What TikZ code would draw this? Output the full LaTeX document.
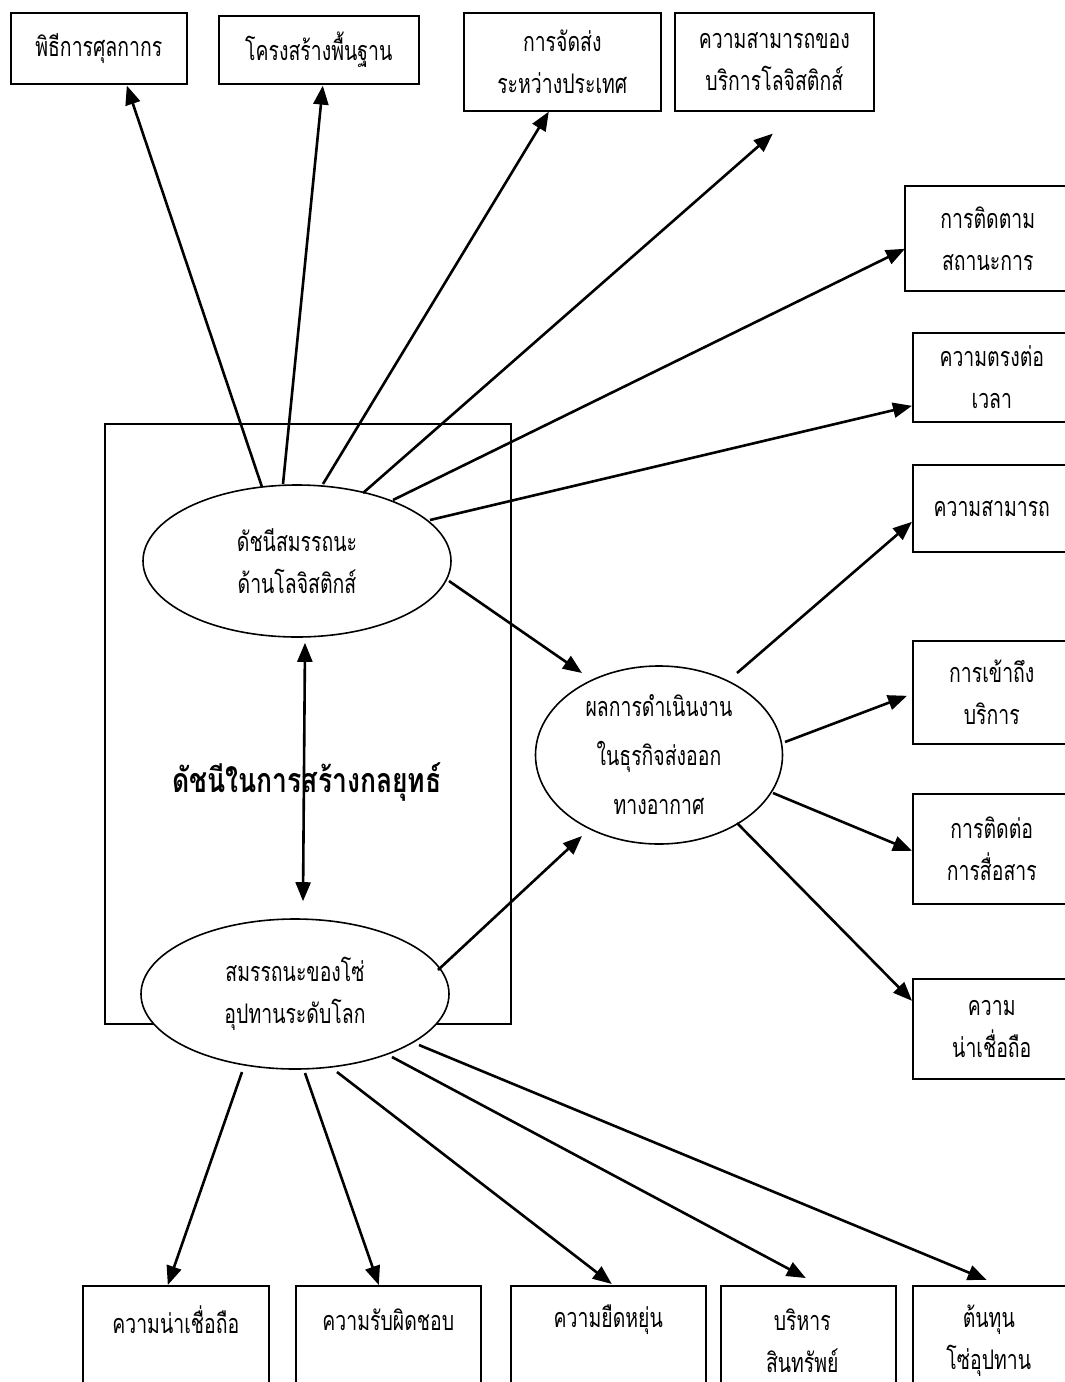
\documentclass[tikz,border=0pt]{standalone}
\usepackage{fontspec}
\setmainfont[Script=Thai]{Loma}
\newfontfamily\thaistr[Script=Thai,FakeStretch=0.72]{Loma}
\newfontfamily\thaititle[Script=Thai,FakeStretch=0.78]{Loma}
\usetikzlibrary{arrows.meta,calc,shapes.geometric}
\newcommand\thaitxt{\thaistr\fontsize{27}{42}\selectfont}
\begin{document}
\begin{tikzpicture}[x=1pt,y=-1pt,
  box/.style={draw,line width=1.6pt,align=center,inner sep=0pt,font=\thaitxt,anchor=north west},
  oval/.style={draw,ellipse,line width=1.6pt,fill=white,align=center,inner sep=0pt,font=\thaitxt},
  lbl/.style={align=center,inner sep=0pt,font=\thaitxt},
  arr/.style={line width=2.6pt,-{Triangle[length=19pt,width=15pt]}},
  dblarr/.style={line width=2.6pt,{Triangle[length=19pt,width=15pt]}-{Triangle[length=19pt,width=15pt]}}
]
\useasboundingbox (0,0) rectangle (1065,1382);
\clip (0,0) rectangle (1065,1382);
\fill[white] (0,0) rectangle (1065,1382);

% big frame
\node[draw,line width=1.6pt,minimum width=406pt,minimum height=600pt,inner sep=0pt,anchor=north west] (frame) at (104,423) {};
\node[font=\thaititle\fontsize{34}{40}\selectfont\bfseries,inner sep=0pt] (title) at (307,782) {ดัชนีในการสร้างกลยุทธ์};

% top boxes
\node[box,minimum width=176pt,minimum height=71pt] (b1) at (10,12) {พิธีการศุลกากร};
\node[box,minimum width=200pt,minimum height=68pt] (b2) at (218,15) {โครงสร้างพื้นฐาน};
\node[box,minimum width=197pt,minimum height=98pt] (b3) at (463,12) {การจัดส่ง\\ระหว่างประเทศ};
\node[box,minimum width=199pt,minimum height=98pt] (b4) at (674,12) {ความสามารถของ\\บริการโลจิสติกส์};

% right boxes
\node[box,minimum width=166pt,minimum height=105pt] (b5) at (904,185) {การติดตาม\\สถานะการ};
\node[box,minimum width=158pt,minimum height=89pt] (b6) at (912,332) {ความตรงต่อ\\เวลา};
\node[box,minimum width=158pt,minimum height=87pt] (b7) at (912,464) {ความสามารถ};
\node[box,minimum width=158pt,minimum height=103pt] (b8) at (912,640) {การเข้าถึง\\บริการ};
\node[box,minimum width=158pt,minimum height=110pt] (b9) at (912,793) {การติดต่อ\\การสื่อสาร};
\node[box,minimum width=158pt,minimum height=100pt] (b10) at (912,978) {ความ\\น่าเชื่อถือ};

% bottom boxes
\node[box,minimum width=186pt,minimum height=130pt] (b11) at (82,1285) {};
\node[box,minimum width=185pt,minimum height=130pt] (b12) at (295,1285) {};
\node[box,minimum width=195pt,minimum height=130pt] (b13) at (510,1285) {};
\node[box,minimum width=175pt,minimum height=130pt] (b14) at (720,1285) {};
\node[box,minimum width=160pt,minimum height=130pt] (b15) at (912,1285) {};
\node[lbl] (t11) at ($(b11.north)+(0,35)$) {ความน่าเชื่อถือ};
\node[lbl] (t12) at ($(b12.north)+(0,35)$) {ความรับผิดชอบ};
\node[lbl] (t13) at ($(b13.north)+(0,35)$) {ความยืดหยุ่น};
\node[lbl] (t14) at ($(b14.north)+(-6,56)$) {บริหาร\\สินทรัพย์};
\node[lbl] (t15) at ($(b15.north)+(-4,56)$) {ต้นทุน\\โซ่อุปทาน};

% ellipses
\node[oval,minimum width=308pt,minimum height=152pt] (e1) at (297,561) {ดัชนีสมรรถนะ\\ด้านโลจิสติกส์};
\node[oval,minimum width=308pt,minimum height=150pt] (e2) at (295,994) {สมรรถนะของโซ่\\อุปทานระดับโลก};
\node[oval,minimum width=247pt,minimum height=178pt,font=\thaistr\fontsize{27}{49}\selectfont] (e3) at (659,755) {ผลการดำเนินงาน\\ในธุรกิจส่งออก\\ทางอากาศ};

% arrows from e1
\draw[arr] ($(e1)+(-35,-74)$) -- ($(b1.south)+(28,1)$);
\draw[arr] ($(e1)+(-14,-77)$) -- ($(b2.south)+(4,1)$);
\draw[arr] ($(e1)+(26,-77)$) -- ($(b3.south)+(-13.5,0)$);
\draw[arr] ($(e1)+(66,-68)$) -- ($(b4.south)+(-1.5,22)$);
\draw[arr] ($(e1)+(96,-61)$) -- ($(b5.west)+(1,10.5)$);
\draw[arr] ($(e1)+(133,-41)$) -- ($(b6.west)+(0,28.5)$);
\draw[arr] ($(e1)+(152,20)$) -- ($(e3)+(-77,-82)$);

% double arrow
\draw[dblarr] ($(e1.south)+(8,5)$) -- ($(e2.north)+(8,-17)$);

% arrows from e3
\draw[arr] ($(e3)+(78,-82)$) -- ($(b7.west)+(0,13.5)$);
\draw[arr] ($(e3)+(126,-13)$) -- ($(b8.west)+(-5,3.5)$);
\draw[arr] ($(e3)+(114,38)$) -- ($(b9.west)+(0,2)$);
\draw[arr] ($(e3)+(78,68)$) -- ($(b10.west)+(0,-28)$);

% arrows from e2
\draw[arr] ($(e2)+(143,-24)$) -- ($(e3)+(-77,81)$);
\draw[arr] ($(e2)+(-53,78)$) -- ($(b11.north)+(-8,0)$);
\draw[arr] ($(e2)+(10,79)$) -- ($(b12.north)+(-9.5,0)$);
\draw[arr] ($(e2)+(42,78)$) -- ($(b13.north)+(3.5,-1)$);
\draw[arr] ($(e2)+(97,63)$) -- ($(b14.north)+(-2.5,-7)$);
\draw[arr] ($(e2)+(124,51)$) -- ($(b15.north)+(-6,-5)$);
\end{tikzpicture}
\end{document}
